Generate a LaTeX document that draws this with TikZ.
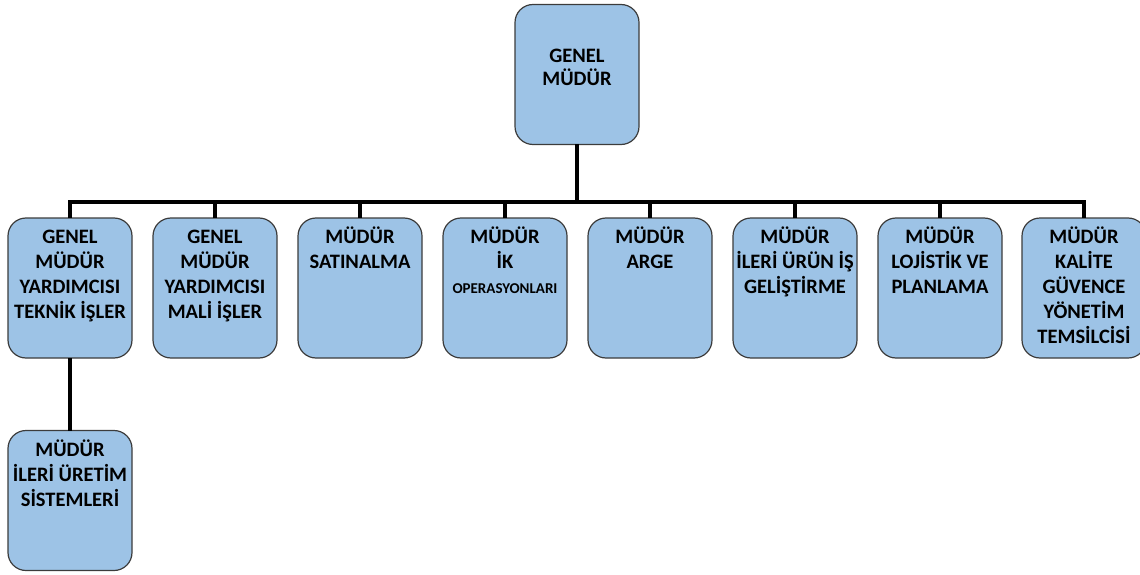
\documentclass[tikz,border=0pt]{standalone}
\usepackage{fontspec}
\setmainfont{Carlito}
\definecolor{boxfill}{HTML}{9DC3E6}
\definecolor{boxline}{HTML}{3C3C3C}
\newcommand\firststr{\rule{0pt}{16pt}}
\tikzset{
  orgbox/.style={draw=boxline, fill=boxfill, rounded corners=18pt, line width=1.2pt,
    minimum width=124pt, minimum height=140pt, inner sep=0pt, outer sep=0pt},
  txt/.style={anchor=north, yshift=-9pt, align=center, inner sep=0pt,
    font=\bfseries\fontsize{20.5}{25}\selectfont, text=black},
  toptxt/.style={txt, yshift=-33pt, font=\bfseries\fontsize{20.5}{23}\selectfont},
  conn/.style={line width=3.6pt, line join=miter, black},
}
\begin{document}
\begin{tikzpicture}[x=1pt,y=-1pt]
\useasboundingbox (0,0) rectangle (1140,575);
\node[orgbox, label={[toptxt]north:\firststr GENEL\\MÜDÜR}] (gm) at (577,74.5) {};
\node[orgbox, label={[txt]north:\firststr GENEL\\MÜDÜR\\YARDIMCISI\\TEKNİK İŞLER}] (c1) at (70,288) {};
\node[orgbox, label={[txt]north:\firststr GENEL\\MÜDÜR\\YARDIMCISI\\MALİ İŞLER}] (c2) at (215,288) {};
\node[orgbox, label={[txt]north:\firststr MÜDÜR\\SATINALMA}] (c3) at (360,288) {};
\node[orgbox, label={[txt]north:\firststr MÜDÜR\\İK\\{\fontsize{15}{25}\selectfont OPERASYONLARI}}] (c4) at (505,288) {};
\node[orgbox, label={[txt]north:\firststr MÜDÜR\\ARGE}] (c5) at (650,288) {};
\node[orgbox, label={[txt]north:\firststr MÜDÜR\\İLERİ ÜRÜN İŞ\\GELİŞTİRME}] (c6) at (795,288) {};
\node[orgbox, label={[txt]north:\firststr MÜDÜR\\LOJİSTİK VE\\PLANLAMA}] (c7) at (940,288) {};
\node[orgbox, label={[txt]north:\firststr MÜDÜR\\KALİTE\\GÜVENCE\\YÖNETİM\\TEMSİLCİSİ}] (c8) at (1084,288) {};
\node[orgbox, label={[txt]north:\firststr MÜDÜR\\İLERİ ÜRETİM\\SİSTEMLERİ}] (b1) at (70,500.5) {};
\coordinate (bus) at (577,202);
\draw[conn] (gm.south) -- (bus);
\draw[conn] (c1.north) |- (bus) -| (c8.north);
\foreach \n in {c2,c3,c4,c5,c6,c7}{\draw[conn] (\n.north) -- (\n.north |- bus);}
\draw[conn] (c1.south) -- (b1.north);
\end{tikzpicture}
\end{document}
